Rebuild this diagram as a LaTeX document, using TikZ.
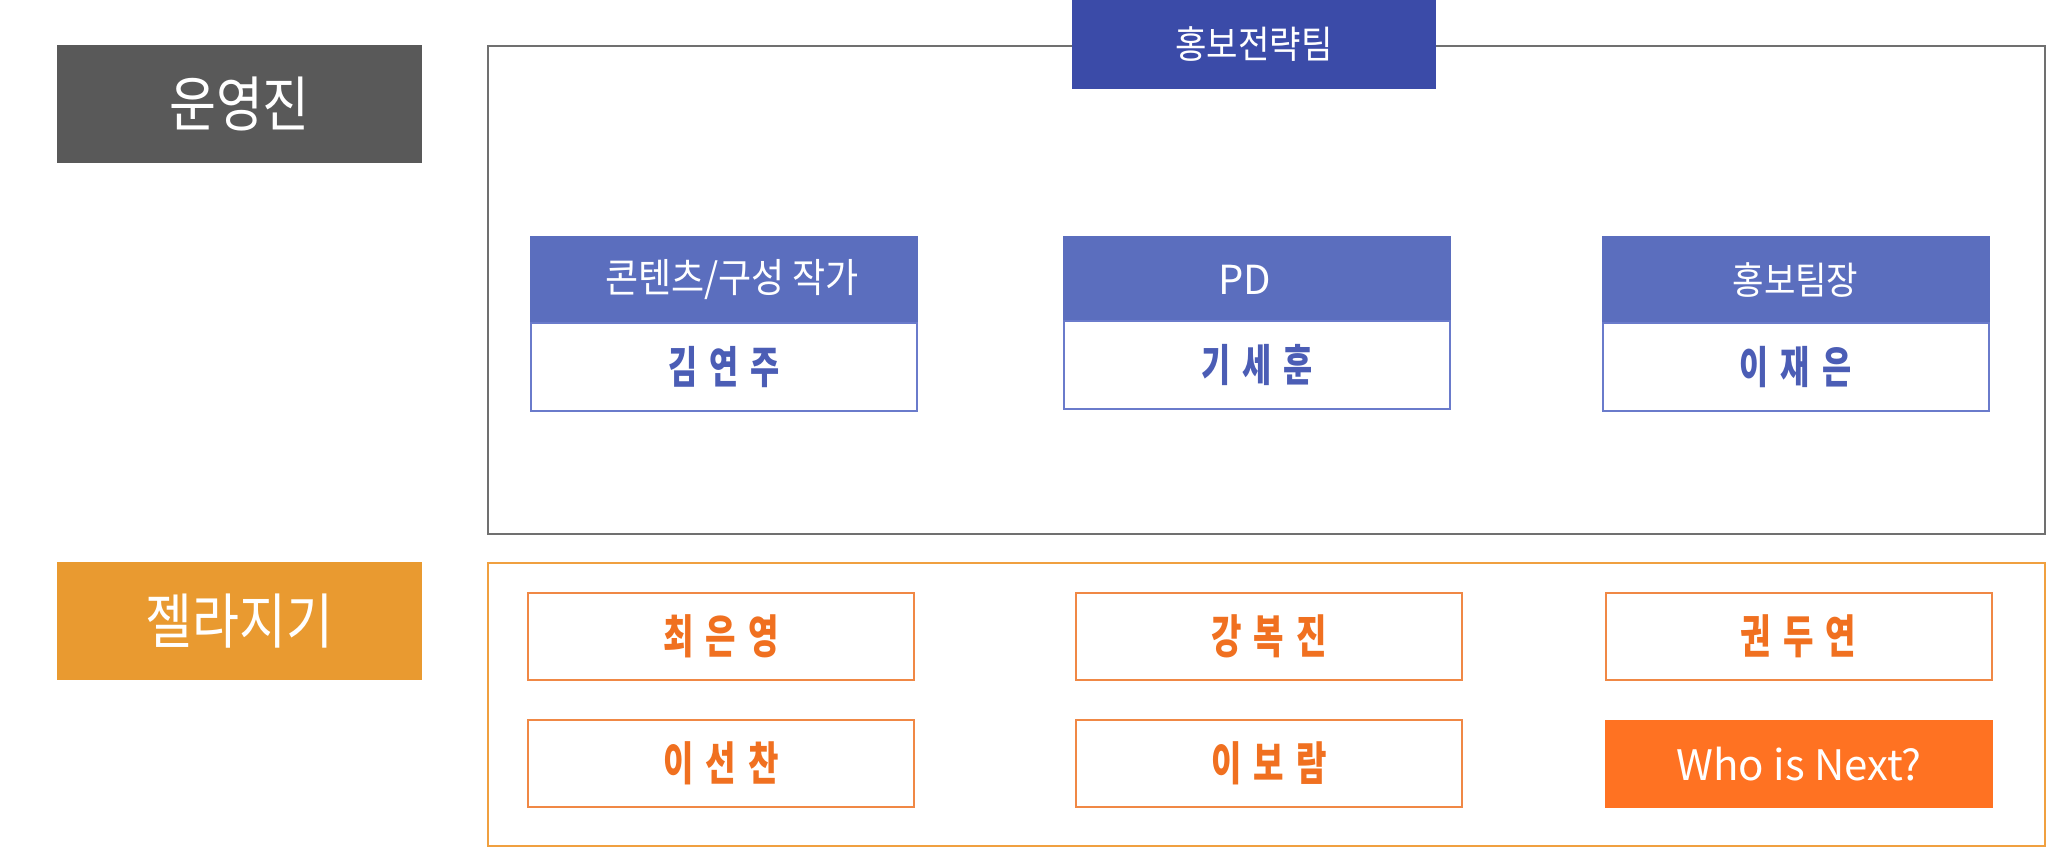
\documentclass[tikz,border=0pt]{standalone}
\usepackage{fontspec}
\newfontfamily\kr{Noto Sans CJK KR}
\newfontfamily\krl{Noto Sans CJK KR}[FakeStretch=0.85]
\newfontfamily\krh{Noto Sans CJK KR}[FakeStretch=0.9]
\newfontfamily\krn{Noto Sans CJK KR}[FakeStretch=0.72]
\definecolor{opgray}{HTML}{595959}
\definecolor{framegray}{HTML}{707070}
\definecolor{jelorange}{HTML}{E99A30}
\definecolor{teamblue}{HTML}{3B4BA8}
\definecolor{headblue}{HTML}{5B6EBE}
\definecolor{nameblue}{HTML}{4B5DB5}
\definecolor{boxblue}{HTML}{6A7BCB}
\definecolor{frameorange}{HTML}{F0A040}
\definecolor{boxorange}{HTML}{F08845}
\definecolor{nameorange}{HTML}{F07020}
\definecolor{nextorange}{HTML}{FF7222}
\newcommand{\nmthree}[3]{{\krn\bfseries #1\hspace{6pt}#2\hspace{6pt}#3}}
\tikzset{
  sect/.style={rectangle, inner sep=0pt, minimum width=182.5pt, minimum height=59pt, text=white, font=\krl\fontsize{30}{34}\selectfont},
  headbox/.style={rectangle, inner sep=0pt, fill=headblue, minimum width=194pt, minimum height=43.5pt, text=white, font=\krh\fontsize{20}{24}\selectfont},
  namebox/.style={rectangle, inner sep=0pt, draw=boxblue, line width=1pt, fill=white, minimum width=193pt, minimum height=44pt, text=nameblue, font=\fontsize{22}{26}\selectfont},
  obox/.style={rectangle, inner sep=0pt, draw=boxorange, line width=1pt, fill=white, minimum width=193pt, minimum height=43.5pt, text=nameorange, font=\fontsize{23}{26}\selectfont},
}
\begin{document}
\begin{tikzpicture}[x=0.5pt,y=-0.5pt]
\useasboundingbox (0,0) rectangle (2048,848);
% section labels
\node[sect, fill=opgray] (op) at (239.5,104) {운영진};
\node[sect, fill=jelorange] (jel) at (239.5,621) {젤라지기};
% frames
\node[rectangle, draw=framegray, line width=1.25pt, inner sep=0pt, minimum width=778.5pt, minimum height=244pt] (opframe) at (1266.5,290) {};
\node[rectangle, draw=frameorange, line width=1pt, inner sep=0pt, minimum width=778.5pt, minimum height=141.5pt] (jelframe) at (1266.5,704.5) {};
% team title
\node[rectangle, inner sep=0pt, fill=teamblue, minimum width=182pt, minimum height=44.5pt, text=white, font=\krh\fontsize{19}{22}\selectfont] (team) at (1254,44.5) {홍보전략팀};
% staff columns
\node[headbox] (h1) at (724,279.5) {\hspace{8pt}콘텐츠/구성 작가};
\node[headbox] (h2) at (1257,279.5) {\hspace{-12pt}\kr\fontsize{20}{24}\selectfont PD};
\node[headbox, font=\krh\fontsize{19}{22}\selectfont] (h3) at (1795.5,279.5) {홍보팀장};
\node[namebox] (n1) at (724,367) {\nmthree{김}{연}{주}};
\node[namebox] (n2) at (1257,365) {\nmthree{기}{세}{훈}};
\node[namebox] (n3) at (1795.5,367) {\nmthree{이}{재}{은}};
% jelly members
\node[obox] (m1) at (721,636) {\nmthree{최}{은}{영}};
\node[obox] (m2) at (1269,636) {\nmthree{강}{복}{진}};
\node[obox] (m3) at (1798.5,636) {\nmthree{권}{두}{연}};
\node[obox] (m4) at (721,763.5) {\nmthree{이}{선}{찬}};
\node[obox] (m5) at (1269,763.5) {\nmthree{이}{보}{람}};
\node[rectangle, inner sep=0pt, fill=nextorange, minimum width=194pt, minimum height=44pt, text=white, font=\kr\fontsize{21}{24}\selectfont] (m6) at (1799,764) {Who is Next?};
\end{tikzpicture}
\end{document}
